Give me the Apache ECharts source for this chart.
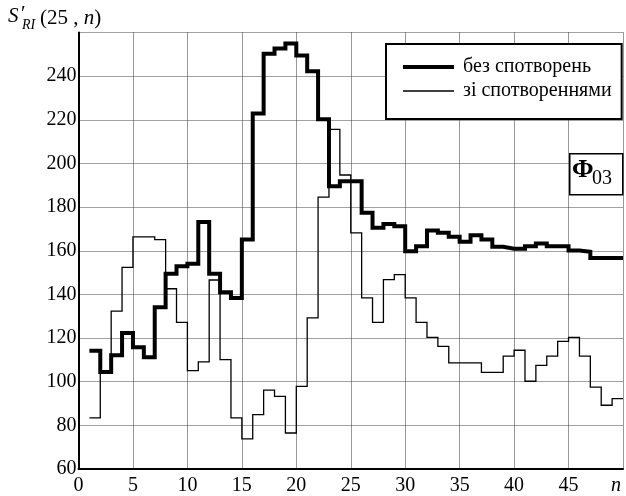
<!DOCTYPE html>
<html>
<head>
<meta charset="utf-8">
<script src="https://cdn.jsdelivr.net/npm/echarts@6/dist/echarts.min.js"></script>
<style>
html,body{margin:0;padding:0;background:#fff;}
#c{width:626px;height:496px;}
</style>
</head>
<body>
<div id="c"></div>
<script>
// ---- data ----
const nIndex = [1,2,3,4,5,6,7,8,9,10,11,12,13,14,15,16,17,18,19,20,21,22,23,24,25,26,27,28,29,30,31,32,33,34,35,36,37,38,39,40,41,42,43,44,45,46,47,48,49];
const seriesNames = ['без спотворень', 'зі спотвореннями'];
const withoutDistortion = [114.2,104.5,112.1,122.3,115.8,111.2,134.1,149.5,152.9,154.0,173.2,149.5,141.0,138.4,165.1,222.9,250.3,252.7,255.0,249.5,242.3,220.2,189.6,191.9,191.9,177.4,170.5,172.3,171.2,159.8,162.1,169.3,168.2,166.4,164.1,167.1,165.1,161.8,160.9,160.9,162.1,163.3,162.1,162.1,160.1,159.5,156.7,156.7,156.7];
const withDistortion = [83.4,104.0,132.3,152.4,166.4,166.4,165.1,142.6,127.2,105.1,109.1,146.6,110.1,83.4,73.8,84.9,96.1,93.3,76.5,97.9,129.2,184.6,215.6,194.7,168.2,138.4,127.2,146.8,149.1,138.4,127.2,120.3,116.2,108.6,108.6,108.6,104.3,104.3,111.7,114.4,100.2,107.5,111.7,118.5,120.3,111.7,97.5,89.2,92.2];
const xTicks = [0,5,10,15,20,25,30,35,40,45];
const yTicks = [60,80,100,120,140,160,180,200,220,240];
const xMin = 0, xMax = 50, xStep = 5;
const yMin = 60, yMax = 260, yStep = 20;

// each value spans [n, n+1]
function stepPoints(vals){
  const pts = nIndex.map((k,i)=>[k, vals[i]]);
  pts.push([nIndex[nIndex.length-1]+1, vals[vals.length-1]]);
  return pts;
}

const FONT = '"Liberation Serif", "DejaVu Serif", serif';
const chart = echarts.init(document.getElementById('c'), null, {renderer:'canvas'});
chart.setOption({
  animation:false,
  backgroundColor:'#fff',
  grid:{left:78.5, top:32.5, width:549.5, height:436.8, containLabel:false},
  xAxis:{
    type:'value', min:xMin, max:xMax, interval:xStep,
    axisLine:{show:true, onZero:false, lineStyle:{color:'#000', width:2}},
    axisTick:{show:false},
    axisLabel:{show:true, margin:7, fontFamily:FONT, fontSize:20, color:'#000',
      formatter:v=> xTicks.includes(v) ? String(v) : ''},
    splitLine:{show:true, lineStyle:{color:'#333', type:'dotted', width:1}}
  },
  yAxis:{
    type:'value', min:yMin, max:yMax, interval:yStep,
    axisLine:{show:true, onZero:false, lineStyle:{color:'#000', width:2}},
    axisTick:{show:false},
    axisLabel:{show:true, margin:2, fontFamily:FONT, fontSize:20, color:'#000',
      formatter:v=> yTicks.includes(v) ? String(v) : ''},
    splitLine:{show:true, lineStyle:{color:'#444', type:'dotted', width:1}}
  },
  legend:{
    show:true, left:386, top:44, orient:'vertical',
    backgroundColor:'#fff', borderColor:'#000', borderWidth:2, borderRadius:0,
    padding:[12,10,17,15], itemGap:2, itemWidth:51, itemHeight:14,
    itemStyle:{opacity:0},
    data:[
      {name:seriesNames[0], lineStyle:{width:4, color:'#000'}},
      {name:seriesNames[1], lineStyle:{width:1.3, color:'#000'}}
    ],
    textStyle:{fontFamily:FONT, fontSize:20, color:'#000', lineHeight:22, padding:[0,0,0,4]}
  },
  series:[
    {name:seriesNames[0], type:'line', step:'end', symbol:'none', showSymbol:false,
     lineStyle:{color:'#000', width:4, cap:'butt', join:'miter'}, itemStyle:{color:'#000'},
     data:stepPoints(withoutDistortion), z:2},
    {name:seriesNames[1], type:'line', step:'end', symbol:'none', showSymbol:false,
     lineStyle:{color:'#000', width:1.3, cap:'butt', join:'miter'}, itemStyle:{color:'#000'},
     data:stepPoints(withDistortion), z:3}
  ],
  graphic:[
    {type:'rect', left:569, top:153, shape:{width:53, height:41}, style:{fill:'#fff', stroke:'#000', lineWidth:1.5}, z:10},
    {type:'text', left:572, top:157, style:{text:'Φ', font:'bold 26px '+FONT, fill:'#000'}, z:11},
    {type:'text', left:592, top:169, style:{text:'03', font:'20px '+FONT, fill:'#000'}, z:11},
    {type:'text', left:8, top:6, style:{text:'S', font:'italic 21px '+FONT, fill:'#000'}, z:11},
    {type:'text', left:21, top:4, style:{text:'′', font:'21px '+FONT, fill:'#000'}, z:11},
    {type:'text', left:22, top:18, style:{text:'RI', font:'italic 14px '+FONT, fill:'#000'}, z:11},
    {type:'text', left:40, top:8, style:{text:'{a|(25}{a| , }{i|n}{a|)}', font:'21px '+FONT, fill:'#000',
      rich:{a:{fontFamily:FONT, fontSize:21}, i:{fontFamily:FONT, fontSize:21, fontStyle:'italic'}}}, z:11},
    {type:'text', left:611, top:476, style:{text:'n', font:'italic 20px '+FONT, fill:'#000'}, z:11}
  ]
});
</script>
</body>
</html>
